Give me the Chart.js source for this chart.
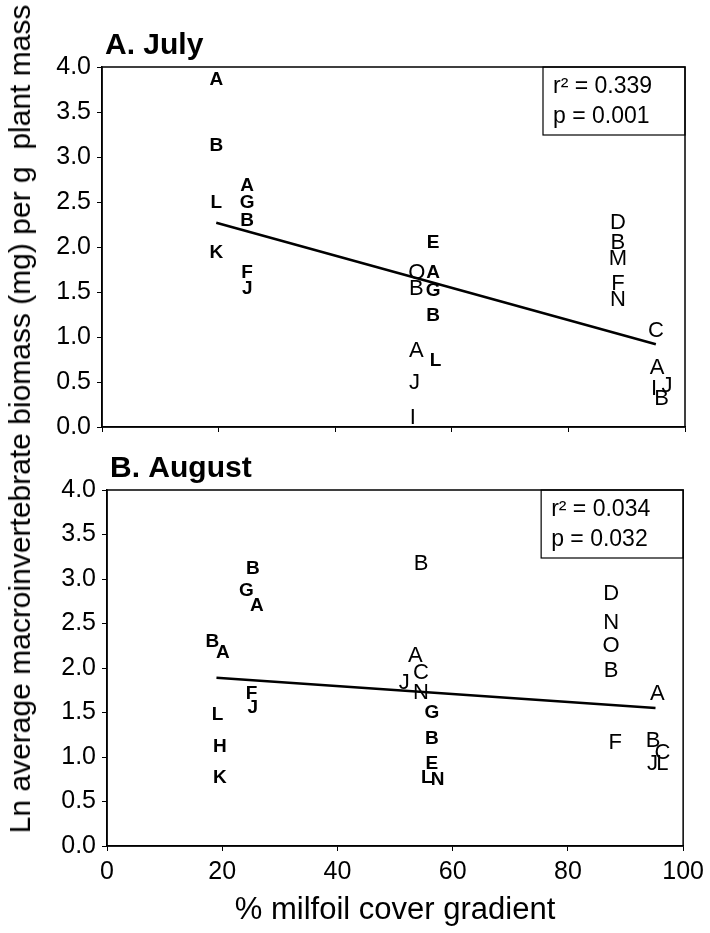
<!DOCTYPE html>
<html lang="en">
<head>
<meta charset="UTF-8">
<title>Macroinvertebrate biomass vs milfoil cover</title>
<script src="https://cdn.jsdelivr.net/npm/chart.js"></script>
<style>
  body { margin:0; background:#fff; width:710px; height:933px; position:relative; overflow:hidden;
         font-family:"Liberation Sans", Arial, sans-serif; }
  .panel { position:absolute; left:0; width:710px; }
  #topWrap { top:0; height:460px; z-index:2; }
  #botWrap { top:440px; height:493px; z-index:1; }
  #ytitle { position:absolute; left:20px; top:419px; transform:translate(-50%,-50%) rotate(-90deg);
            white-space:pre; font-size:30px; color:#000; line-height:1; z-index:3; }
</style>
</head>
<body>
<div class="panel" id="topWrap"><canvas id="julyChart"></canvas></div>
<div class="panel" id="botWrap"><canvas id="augChart"></canvas></div>
<div id="ytitle">Ln average macroinvertebrate biomass (mg) per g  plant mass</div>
<script>
// A. July - bold letters
const julyBoldLetters = ['A','B','A','G','L','B','K','F','J','E','A','G','B','L'];
const julyBoldX = [19.6,19.6,24.9,24.9,19.6,24.9,19.6,24.9,24.9,56.8,56.8,56.8,56.8,57.2];
const julyBoldY = [3.87,3.14,2.69,2.50,2.50,2.30,1.95,1.72,1.55,2.06,1.72,1.53,1.25,0.75];
// A. July - regular letters
const julyRegLetters = ['O','B','A','J','I','D','B','M','F','N','C','A','I','J','B'];
const julyRegX = [54.0,53.9,53.9,53.6,53.3,88.5,88.5,88.5,88.5,88.5,95.0,95.2,94.7,96.9,96.0];
const julyRegY = [1.72,1.54,0.86,0.50,0.11,2.28,2.06,1.88,1.60,1.42,1.08,0.67,0.43,0.47,0.32];
const julyFitX = [19.6, 95.0];
const julyFitY = [2.27, 0.92];

// B. August - bold letters
const augBoldLetters = ['B','G','A','B','A','F','J','L','H','K','G','B','E','L','N'];
const augBoldX = [25.3,24.2,26.0,18.3,20.1,25.1,25.3,19.2,19.6,19.6,56.4,56.4,56.4,55.5,57.4];
const augBoldY = [3.13,2.88,2.71,2.31,2.18,1.72,1.56,1.49,1.13,0.78,1.51,1.22,0.94,0.78,0.76];
// B. August - regular letters
const augRegLetters = ['B','A','C','J','N','D','N','O','B','A','F','B','C','J','L'];
const augRegX = [54.5,53.5,54.5,51.6,54.5,87.5,87.5,87.5,87.5,95.5,88.2,94.8,96.4,94.7,96.4];
const augRegY = [3.18,2.15,1.96,1.84,1.73,2.84,2.52,2.26,1.98,1.72,1.17,1.19,1.06,0.93,0.93];
const augFitX = [19.0, 95.2];
const augFitY = [1.89, 1.55];

const yTicks = [0, 0.5, 1, 1.5, 2, 2.5, 3, 3.5, 4];
const xTicks = [0, 20, 40, 60, 80, 100];

const FONT = '"Liberation Sans", Arial, sans-serif';

function pts(xs, ys) { return xs.map((x, i) => ({ x: x, y: ys[i] })); }

// draws the letters at the points, frame, panel title and stats box
const letterPlugin = {
    id: 'letters',
    afterDatasetsDraw(chart) {
        const ctx = chart.ctx;
        const a = chart.chartArea;
        const deco = chart.options.plugins.deco;
        ctx.save();
        chart.data.datasets.forEach((ds, di) => {
            if (!ds.letters) return;
            const meta = chart.getDatasetMeta(di);
            ctx.font = (ds.bold ? 'bold 19px ' : '22px ') + FONT;
            ctx.fillStyle = '#000';
            ctx.textAlign = 'center';
            ctx.textBaseline = 'middle';
            meta.data.forEach((el, i) => ctx.fillText(ds.letters[i], el.x, el.y + 1));
        });
        // frame
        ctx.strokeStyle = '#000';
        ctx.lineWidth = 1.5;
        ctx.strokeRect(a.left, a.top, a.right - a.left, a.bottom - a.top);
        // panel title
        ctx.font = 'bold 30px ' + FONT;
        ctx.textAlign = 'left';
        ctx.textBaseline = 'alphabetic';
        ctx.fillText(deco.title, a.left + 3, a.top - 13);
        // stats box
        const bx = a.right - 142, bh = 68;
        ctx.lineWidth = 1.2;
        ctx.strokeRect(bx, a.top, a.right - bx, bh);
        ctx.font = '23px ' + FONT;
        ctx.textBaseline = 'middle';
        ctx.fillText('r\u00b2 = ' + deco.r2, bx + 10, a.top + 20);
        ctx.fillText('p = ' + deco.p, bx + 10, a.top + 50);
        ctx.restore();
    }
};

function makeChart(id, cfg) {
    const ctx = document.getElementById(id).getContext('2d');
    return new Chart(ctx, {
        type: 'scatter',
        data: {
            datasets: [
                { data: pts(cfg.boldX, cfg.boldY), letters: cfg.boldLetters, bold: true, pointRadius: 0 },
                { data: pts(cfg.regX, cfg.regY), letters: cfg.regLetters, bold: false, pointRadius: 0 },
                { data: pts(cfg.fitX, cfg.fitY), showLine: true, borderColor: '#000', borderWidth: 2.5,
                  pointRadius: 0, fill: false }
            ]
        },
        options: {
            responsive: true,
            maintainAspectRatio: false,
            animation: false,
            events: [],
            layout: { padding: { left: 0, right: 25, top: cfg.padTop, bottom: 0 } },
            plugins: {
                legend: { display: false },
                tooltip: { enabled: false },
                deco: { title: cfg.title, r2: cfg.r2, p: cfg.p }
            },
            scales: {
                x: {
                    type: 'linear', min: 0, max: 100,
                    afterBuildTicks: s => { s.ticks = xTicks.map(v => ({ value: v })); },
                    afterFit: s => { s.height = cfg.xHeight; },
                    grid: { display: true, drawOnChartArea: false, drawTicks: true, tickLength: 5, color: '#000' },
                    border: { display: true, color: '#000', width: 1.5 },
                    ticks: { display: cfg.showX, color: '#000', padding: 6, maxRotation: 0,
                             font: { family: FONT, size: 25 } },
                    title: { display: cfg.showX, text: '% milfoil cover gradient', color: '#000',
                             font: { family: FONT, size: 31 }, padding: { top: 4, bottom: 4 } }
                },
                y: {
                    type: 'linear', min: 0, max: 4,
                    afterBuildTicks: s => { s.ticks = yTicks.map(v => ({ value: v })); },
                    afterFit: s => { s.width = cfg.yWidth; },
                    grid: { display: true, drawOnChartArea: false, drawTicks: true, tickLength: 5, color: '#000' },
                    border: { display: true, color: '#000', width: 1.5 },
                    ticks: { color: '#000', padding: 6, font: { family: FONT, size: 25 },
                             callback: v => v.toFixed(1) }
                }
            }
        },
        plugins: [letterPlugin]
    });
}

makeChart('julyChart', {
    title: 'A. July', r2: '0.339', p: '0.001',
    boldLetters: julyBoldLetters, boldX: julyBoldX, boldY: julyBoldY,
    regLetters: julyRegLetters, regX: julyRegX, regY: julyRegY,
    fitX: julyFitX, fitY: julyFitY,
    padTop: 67, xHeight: 33, yWidth: 102, showX: false
});

makeChart('augChart', {
    title: 'B. August', r2: '0.034', p: '0.032',
    boldLetters: augBoldLetters, boldX: augBoldX, boldY: augBoldY,
    regLetters: augRegLetters, regX: augRegX, regY: augRegY,
    fitX: augFitX, fitY: augFitY,
    padTop: 50, xHeight: 87, yWidth: 107, showX: true
});
</script>
</body>
</html>
